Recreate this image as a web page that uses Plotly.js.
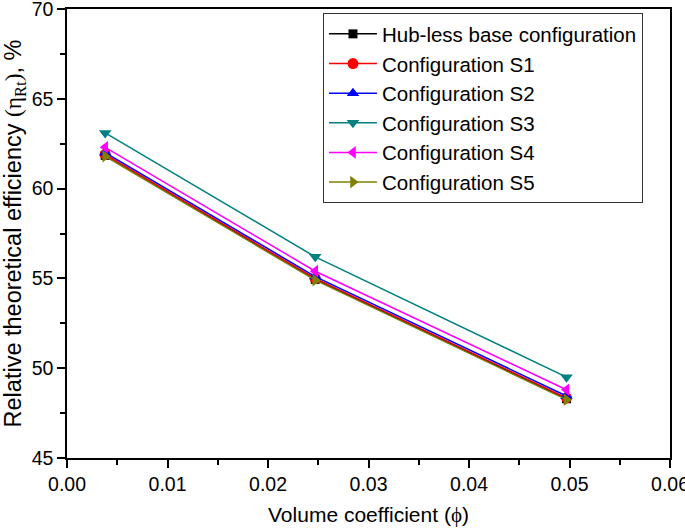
<!DOCTYPE html>
<html>
<head>
<meta charset="utf-8">
<script src="https://cdn.plot.ly/plotly-3.0.1.min.js"></script>
<style>html,body{margin:0;padding:0;background:#fff;}#chart{width:685px;height:529px;}</style>
</head>
<body>
<div id="chart"></div>
<script>
const phi = [0.0038, 0.0247, 0.0497];
const seriesNames = ["Hub-less base configuration", "Configuration S1", "Configuration S2", "Configuration S3", "Configuration S4", "Configuration S5"];
const baseEff = [61.85, 54.95, 48.3];
const s1Eff = [61.9, 55.0, 48.35];
const s2Eff = [62.0, 55.1, 48.45];
const s3Eff = [63.1, 56.2, 49.5];
const s4Eff = [62.3, 55.4, 48.8];
const s5Eff = [61.8, 54.9, 48.25];
const seriesValues = [baseEff, s1Eff, s2Eff, s3Eff, s4Eff, s5Eff];
const colors = ["#000000", "#ff0000", "#0000ff", "#008080", "#ff00ff", "#808000"];
const symbols = ["square", "circle", "triangle-up", "triangle-down", "triangle-left", "triangle-right"];

const traces = seriesNames.map((n, i) => ({
  x: phi, y: seriesValues[i], name: n, type: "scatter", mode: "lines+markers",
  line: {color: colors[i], width: 1.5},
  marker: {color: colors[i], symbol: symbols[i], size: i === 0 ? 9 : 11}
}));

const font = {family: "Liberation Sans, Arial, sans-serif", color: "#000"};
const serif = "font-family:Liberation Serif, Times New Roman, serif";
const layout = {
  width: 685, height: 529,
  margin: {l: 67, r: 15, t: 9, b: 71},
  paper_bgcolor: "#fff", plot_bgcolor: "#fff",
  font: Object.assign({size: 20}, font),
  showlegend: true,
  legend: {
    x: 0.4245, y: 0.991, xanchor: "left", yanchor: "top",
    bgcolor: "#fff", bordercolor: "#333", borderwidth: 1,
    font: Object.assign({size: 20.5}, font),
    tracegroupgap: 0, itemwidth: 48
  },
  xaxis: {
    range: [0, 0.06], tickmode: "linear", tick0: 0, dtick: 0.01, tickformat: ".2f",
    ticks: "outside", ticklen: 8, tickwidth: 1.5, tickcolor: "#000",
    minor: {ticks: "outside", dtick: 0.005, ticklen: 5, tickwidth: 1.5, tickcolor: "#000"},
    showline: true, linecolor: "#000", linewidth: 1.5, mirror: true,
    showgrid: false, zeroline: false, ticklabeloverflow: "allow",
    tickfont: Object.assign({size: 19.5}, font),
    title: {text: "Volume coefficient (<span style='" + serif + "'>ϕ</span>)", font: Object.assign({size: 21}, font), standoff: 13}
  },
  yaxis: {
    range: [45, 70], tickmode: "linear", tick0: 45, dtick: 5,
    ticks: "outside", ticklen: 8, tickwidth: 1.5, tickcolor: "#000",
    minor: {ticks: "outside", dtick: 2.5, ticklen: 5, tickwidth: 1.5, tickcolor: "#000"},
    showline: true, linecolor: "#000", linewidth: 1.5, mirror: true,
    showgrid: false, zeroline: false, ticklabeloverflow: "allow",
    tickfont: Object.assign({size: 19.5}, font),
    title: {text: "Relative theoretical efficiency <span style='" + serif + "'>(η<sub>Rt</sub>)</span>, %", font: Object.assign({size: 23.5}, font), standoff: 3}
  }
};
Plotly.newPlot("chart", traces, layout, {displayModeBar: false});
</script>
</body>
</html>
